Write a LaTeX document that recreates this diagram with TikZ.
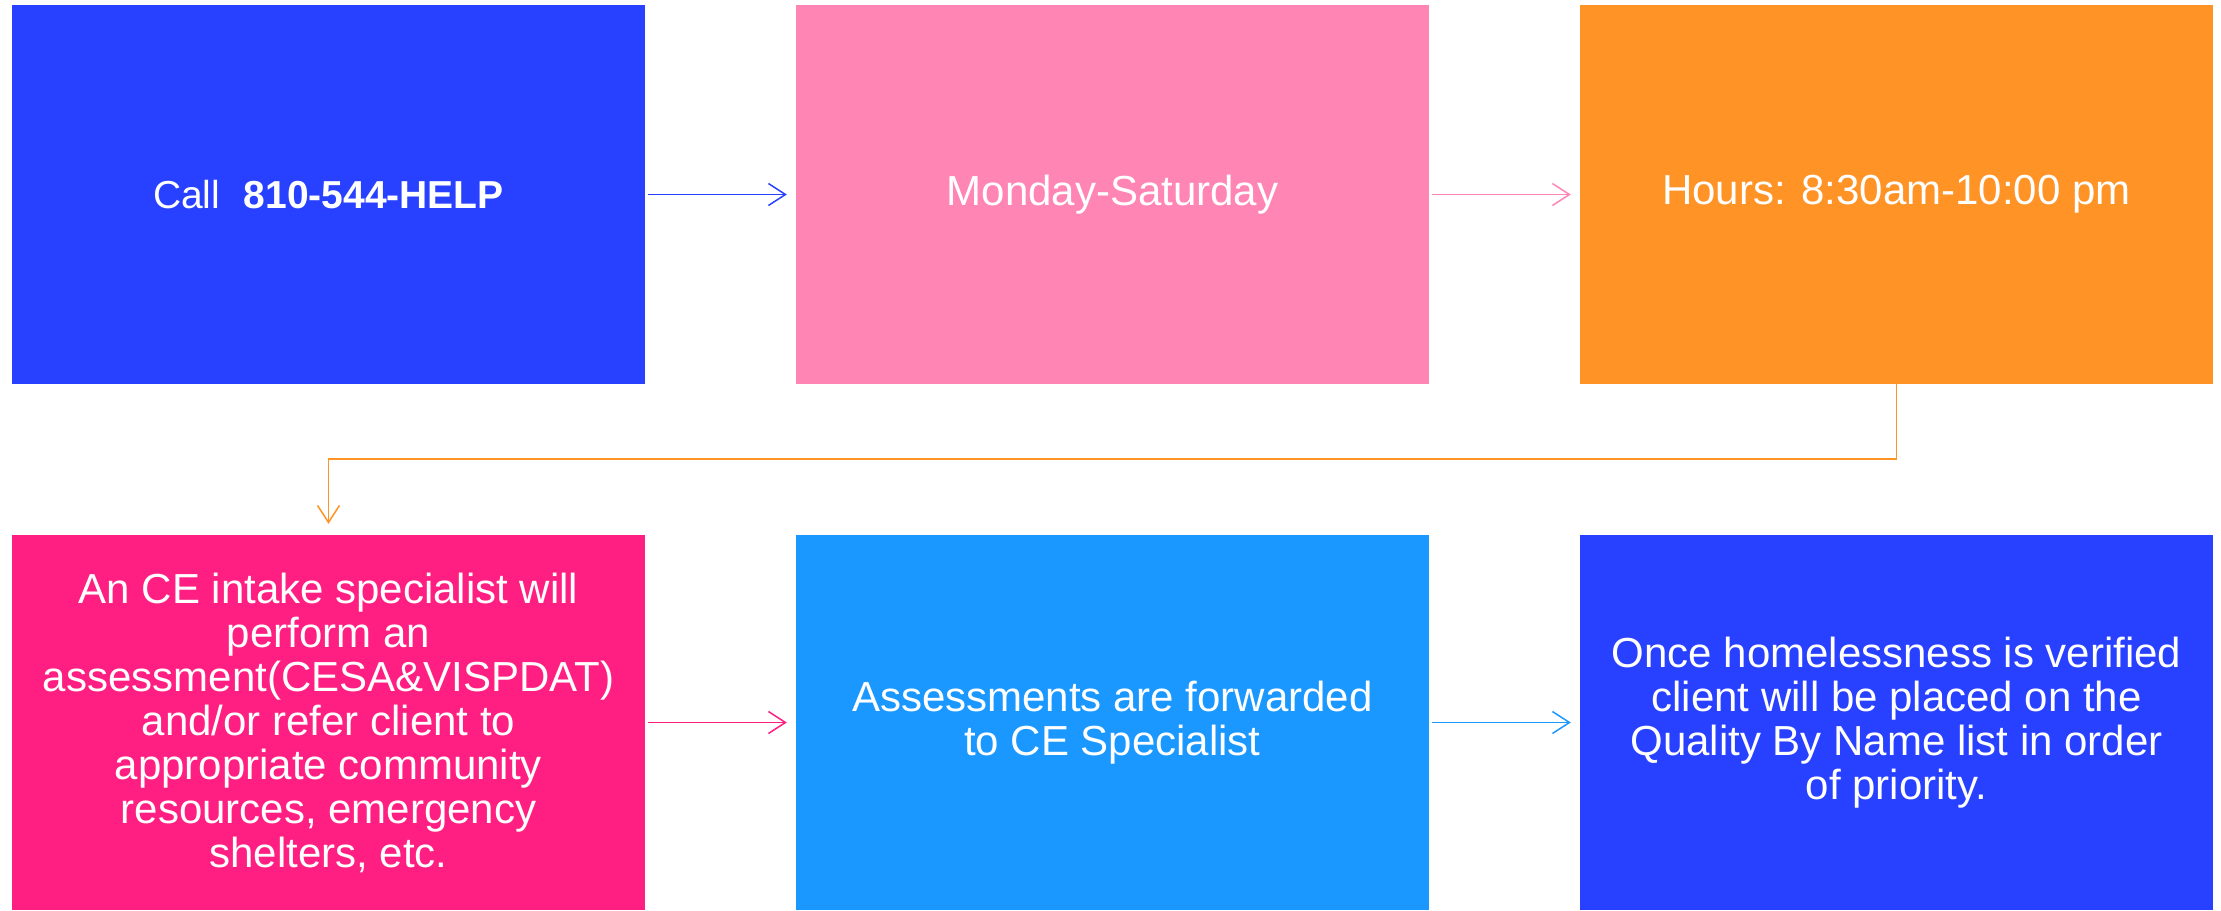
\documentclass[tikz,border=0pt]{standalone}
\usepackage{fontspec}
\setmainfont{Liberation Sans}
\usetikzlibrary{arrows.meta}
\definecolor{cblue}{HTML}{2840FF}
\definecolor{cpink}{HTML}{FF85B5}
\definecolor{corange}{HTML}{FF9326}
\definecolor{cmagenta}{HTML}{FF1F82}
\definecolor{csky}{HTML}{1A98FF}
\begin{document}
\begin{tikzpicture}[x=1pt,y=-1pt,
  box/.style={rectangle, inner sep=0pt, minimum width=633pt, text=white, align=center, font=\fontsize{42}{44}\selectfont},
  toprow/.style={box, minimum height=379pt},
  botrow/.style={box, minimum height=375pt},
  conn/.style={line width=1.5pt, shorten <=3pt, shorten >=9pt, -{Straight Barb[length=17pt,width=22pt,line width=1.5pt]}}]
\useasboundingbox (0,0) rectangle (2221,910);
\node[toprow, fill=cblue] (a) at (328.5,194.5) {\fontsize{39}{44}\selectfont Call\hspace{0.6em}\textbf{810-544-HELP}};
\node[toprow, fill=cpink] (b) at (1112.5,194.5) {Monday-Saturday};
\node[toprow, fill=corange] (c) at (1896.5,194.5) {Hours: 8:30am-10:00 pm};
\node[botrow, fill=cmagenta] (d) at (328.5,722.5) {An CE intake specialist will\\perform an\\assessment(CESA\&VISPDAT)\\and/or refer client to\\appropriate community\\resources, emergency\\shelters, etc.};
\node[botrow, fill=csky] (e) at (1112.5,722.5) {Assessments are forwarded\\to CE Specialist};
\node[botrow, fill=cblue] (f) at (1896.5,722.5) {Once homelessness is verified\\client will be placed on the\\Quality By Name list in order\\of priority.};
\coordinate (elbow) at (0,459);
\draw[conn, cblue] (a) -- (b);
\draw[conn, cpink] (b) -- (c);
\draw[conn, cmagenta] (d) -- (e);
\draw[conn, csky] (e) -- (f);
\draw[conn, corange, shorten <=0pt, shorten >=11pt] (c.south) |- (d.north |- elbow) -- (d.north);
\end{tikzpicture}
\end{document}
